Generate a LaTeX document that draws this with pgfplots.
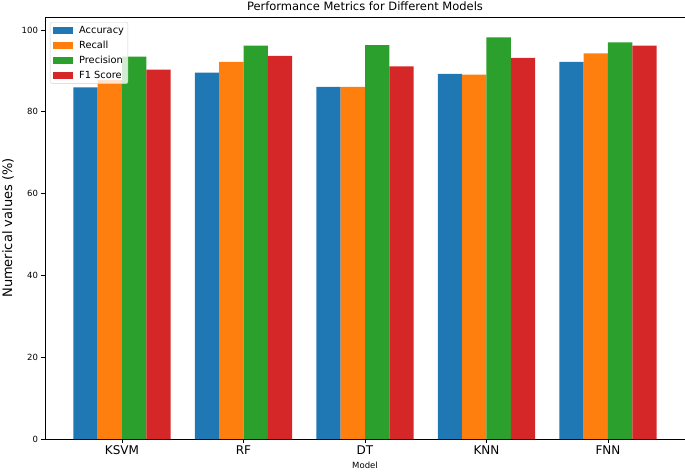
\documentclass[border=0pt]{standalone}
\usepackage{fontspec}
\setmainfont{DejaVu Sans}
\usepackage{pgfplots}
\pgfplotsset{compat=1.18}
\definecolor{tabblue}{HTML}{1F77B4}
\definecolor{taborange}{HTML}{FF7F0E}
\definecolor{tabgreen}{HTML}{2CA02C}
\definecolor{tabred}{HTML}{D62728}
\begin{document}
\begin{tikzpicture}
\useasboundingbox (0pt,0pt) rectangle (685pt,472pt);
\begin{axis}[
  at={(45pt,33pt)}, anchor=south west,
  scale only axis, width=640pt, height=422pt,
  xmin=-0.634, xmax=4.634, ymin=0, ymax=103.2,
  ybar=0pt, bar width=0.2,
  xtick={0,1,2,3,4},
  xticklabels={KSVM,RF,DT,KNN,FNN},
  ytick={0,20,40,60,80,100},
  tick pos=left, tick align=outside, major tick length=3.5pt,
  /pgf/number format/assume math mode=true,
  xticklabel style={font=\fontsize{12}{14}\selectfont},
  yticklabel style={font=\fontsize{8.5}{10}\selectfont},
  axis line style={line width=0.8pt},
  every tick/.style={line width=0.8pt, black},
  title={Performance Metrics for Different Models},
  title style={font=\fontsize{11.5}{13}\selectfont, yshift=-3pt},
  xlabel={Model},
  xlabel style={font=\fontsize{8.5}{10}\selectfont, at={(axis description cs:0.5,-0.0616)}, anchor=center},
  ylabel={Numerical values (\%)},
  ylabel style={font=\fontsize{13}{15}\selectfont, at={(axis description cs:-0.0578,0.5)}, anchor=center},
  legend style={at={(axis description cs:0.0078,0.988)}, anchor=north west,
    draw=gray!35, rounded corners=2pt, fill=white, fill opacity=0.8, text opacity=1,
    font=\fontsize{9.8}{11}\selectfont, row sep=3pt, column sep=5pt, inner sep=2.5pt,
    nodes={inner sep=1.5pt}},
  legend cell align=left,
  legend image code/.code={\fill[#1, sharp corners, fill opacity=1] (0pt,-3.5pt) rectangle (20pt,3.5pt);},
]
\addplot[fill=tabblue, draw=none, bar shift=-0.3] coordinates {(0,86.0) (1,89.6) (2,86.1) (3,89.3) (4,92.2)};
\addplot[fill=taborange, draw=none, bar shift=-0.1] coordinates {(0,87.8) (1,92.2) (2,86.1) (3,89.1) (4,94.3)};
\addplot[fill=tabgreen, draw=none, bar shift=0.1] coordinates {(0,93.5) (1,96.2) (2,96.3) (3,98.2) (4,97.0)};
\addplot[fill=tabred, draw=none, bar shift=0.3] coordinates {(0,90.3) (1,93.7) (2,91.1) (3,93.2) (4,96.2)};
\legend{Accuracy,Recall,Precision,F1 Score}
\end{axis}
\end{tikzpicture}
\end{document}
